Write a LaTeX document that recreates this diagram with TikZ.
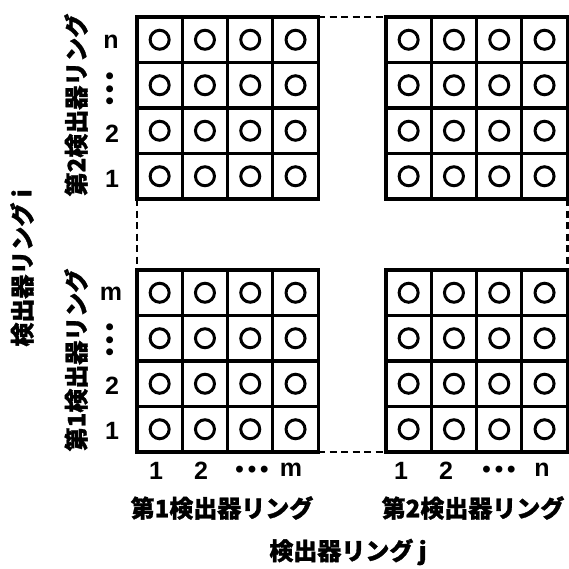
\documentclass[tikz,border=0pt]{standalone}
\usepackage{fontspec}
\setmainfont{Liberation Sans}
\newfontfamily\jp{Noto Sans CJK JP}[BoldFeatures={FakeBold=1.2}]
\begin{document}
\begin{tikzpicture}[x=1pt,y=-1pt,
  cellbox/.style={draw,line width=3.1pt,minimum width=45.3pt,minimum height=45.5pt,inner sep=0pt,outer sep=0pt},
  ring/.style={line width=3pt},
  dashlink/.style={line width=2.8pt,dash pattern=on 7pt off 4.5pt},
  lbl/.style={font=\fontsize{25}{25}\selectfont\bfseries,inner sep=0pt},
  dots/.style={font=\fontsize{24}{24}\selectfont\bfseries,inner sep=0pt},
  jlbl/.style={font=\jp\fontsize{24}{24}\selectfont\bfseries,inner sep=0pt}]
\useasboundingbox (0,0) rectangle (569,569);
\fill[white] (0,0) rectangle (569,569);
\foreach \g/\X/\Y in {A/137/17,B/386/17,C/137/270,D/386/270}{
  \foreach \r in {1,...,4}{
    \foreach \c in {1,...,4}{
      \node[cellbox] (\g\r\c) at ({\X+(\c-0.5)*45.3},{\Y+(\r-0.5)*45.5}) {};
      \draw[ring] (\g\r\c.center) circle[radius=9.5pt];
    }}}
\draw[dashlink] (A14.north east) -- (B11.north west);
\draw[dashlink] (A41.south west) -- (C11.north west);
\draw[dashlink] (B44.south east) -- (D14.north east);
\draw[dashlink] (C44.south east) -- (D41.south west);
% row labels
\node[lbl] (rn) at (111,42) {n};
\node[dots,rotate=90] (rd1) at (112,89) {•\,•\,•};
\node[lbl] (r2a) at (112,134) {2};
\node[lbl] (r1a) at (112,179) {1};
\node[lbl] (rm) at (111,294) {m};
\node[dots,rotate=90] (rd2) at (112,340) {•\,•\,•};
\node[lbl] (r2b) at (112,386) {2};
\node[lbl] (r1b) at (112,431) {1};
% column labels
\node[lbl] (c1a) at (156,471) {1};
\node[lbl] (c2a) at (201,471) {2};
\node[dots] (cda) at (252,472) {•\,•\,•};
\node[lbl] (cma) at (291,470) {m};
\node[lbl] (c1b) at (401,471) {1};
\node[lbl] (c2b) at (446,471) {2};
\node[dots] (cdb) at (499,472) {•\,•\,•};
\node[lbl] (cnb) at (542,470) {n};
% ring labels
\node[jlbl,rotate=90] (v2) at (76,105) {第2検出器リング};
\node[jlbl,rotate=90] (v1) at (76,360) {第1検出器リング};
\node[jlbl,rotate=90] (vi) at (22,268) {検出器リング i};
\node[jlbl] (h1) at (222,508) {第1検出器リング};
\node[jlbl] (h2) at (473,508) {第2検出器リング};
\node[jlbl] (hj) at (348,552) {検出器リング j};
\end{tikzpicture}
\end{document}
